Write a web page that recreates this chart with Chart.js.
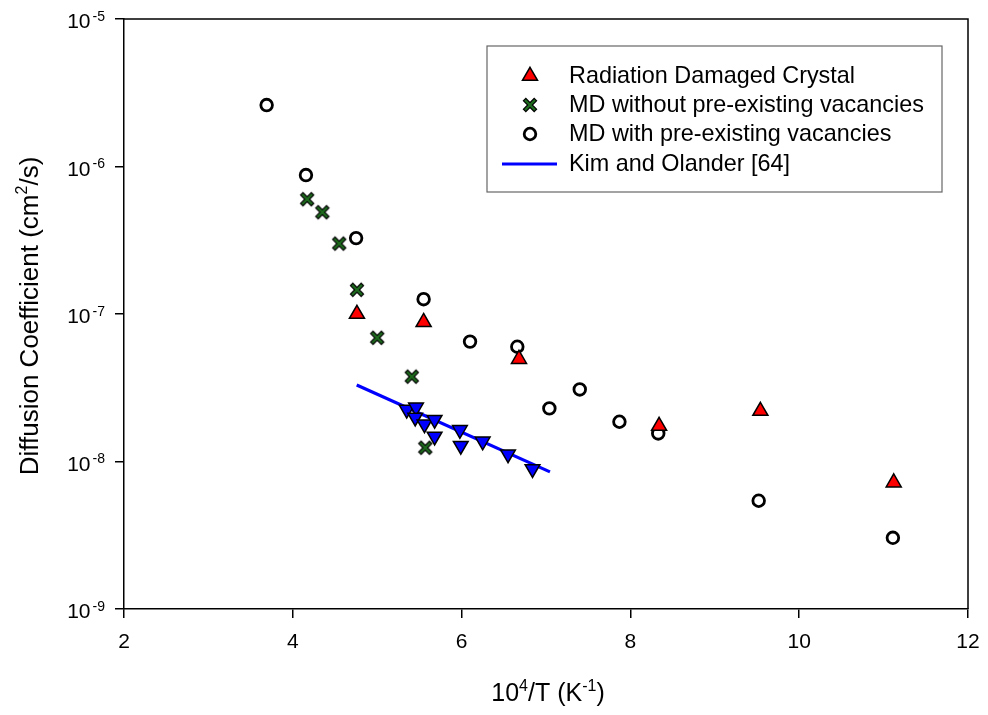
<!DOCTYPE html>
<html>
<head>
<meta charset="utf-8">
<script src="https://cdn.jsdelivr.net/npm/chart.js@4.4.1/dist/chart.umd.min.js"></script>
<style>
html,body{margin:0;padding:0;background:#fff;}
#wrap{width:988px;height:715px;position:relative;}
</style>
</head>
<body>
<div id="wrap"><canvas id="c" width="988" height="715"></canvas></div>
<script>
// ---- data ----
const radiationX = [4.76, 5.55, 6.68, 8.34, 9.54, 11.12];
const radiationY = [1.0e-7, 8.8e-8, 4.95e-8, 1.74e-8, 2.2e-8, 7.2e-9];

const mdNoVacX = [4.17, 4.35, 4.55, 4.76, 5.0, 5.41, 5.57];
const mdNoVacY = [6.0e-7, 4.9e-7, 3.0e-7, 1.46e-7, 6.9e-8, 3.76e-8, 1.24e-8];

const mdVacX = [3.69, 4.156, 4.75, 5.55, 6.1, 6.66, 7.04, 7.40, 7.87, 8.33, 9.52, 11.11];
const mdVacY = [2.61e-6, 8.75e-7, 3.27e-7, 1.26e-7, 6.5e-8, 6.0e-8, 2.29e-8, 3.08e-8, 1.86e-8, 1.55e-8, 5.42e-9, 3.04e-9];

const expX = [5.35, 5.46, 5.45, 5.56, 5.68, 5.68, 5.98, 5.99, 6.25, 6.55, 6.84];
const expY = [2.25e-8, 2.33e-8, 1.99e-8, 1.79e-8, 1.92e-8, 1.48e-8, 1.64e-8, 1.28e-8, 1.37e-8, 1.12e-8, 8.9e-9];

const kimX = [4.757, 7.047];
const kimY = [3.3e-8, 8.5e-9];

const xTicks = [2, 4, 6, 8, 10, 12];
const yTickExps = [-5, -6, -7, -8, -9];

const labels = ['Radiation Damaged Crystal', 'MD without pre-existing vacancies', 'MD with pre-existing vacancies', 'Kim and Olander [64]'];

const FONT = '"Liberation Sans", Arial, Helvetica, sans-serif';

function pts(xs, ys){ return xs.map((x,i)=>({x:x, y:ys[i]})); }

// green X marker with black outline
function makeCross(){
  const s = 18, cv = document.createElement('canvas');
  cv.width = s; cv.height = s;
  const g = cv.getContext('2d');
  const a = 3.2, b = s - 3.2;
  g.lineCap = 'butt';
  g.strokeStyle = '#000'; g.lineWidth = 4.6;
  g.beginPath(); g.moveTo(a,a); g.lineTo(b,b); g.moveTo(b,a); g.lineTo(a,b); g.stroke();
  g.strokeStyle = '#1e6b1e'; g.lineWidth = 2.4;
  g.beginPath(); g.moveTo(a+0.8,a+0.8); g.lineTo(b-0.8,b-0.8); g.moveTo(b-0.8,a+0.8); g.lineTo(a+0.8,b-0.8); g.stroke();
  return cv;
}
const crossImg = makeCross();

function drawParts(ctx, parts, x0, y0, big, small, measureOnly){
  let x = x0;
  parts.forEach(p => {
    ctx.font = (p[1] ? small : big) + 'px ' + FONT;
    const w = ctx.measureText(p[0]).width;
    if (!measureOnly) ctx.fillText(p[0], x, p[1] ? y0 - big*0.42 : y0);
    x += w;
  });
  return x - x0;
}

function drawSymbol(ctx, ds, x, y){
  ctx.save();
  ctx.fillStyle = ds.backgroundColor; ctx.strokeStyle = ds.borderColor; ctx.lineWidth = ds.borderWidth;
  if (ds.pointStyle === 'circle') {
    ctx.beginPath(); ctx.arc(x, y, ds.pointRadius, 0, Math.PI*2); ctx.fill(); ctx.stroke();
  } else if (ds.pointStyle === 'triangle') {
    const r = ds.pointRadius; let rad = 0;
    ctx.beginPath();
    ctx.moveTo(x + Math.sin(rad)*r, y - Math.cos(rad)*r);
    rad += 2*Math.PI/3; ctx.lineTo(x + Math.sin(rad)*r, y - Math.cos(rad)*r);
    rad += 2*Math.PI/3; ctx.lineTo(x + Math.sin(rad)*r, y - Math.cos(rad)*r);
    ctx.closePath(); ctx.fill(); ctx.stroke();
  } else {
    const img = ds.pointStyle;
    ctx.drawImage(img, x - img.width/2, y - img.height/2);
  }
  ctx.restore();
}

const frameAndText = {
  id: 'frameAndText',
  afterDraw(chart){
    const ctx = chart.ctx, ca = chart.chartArea;
    const xs = chart.scales.x, ys = chart.scales.y;
    ctx.save();
    // frame top & right
    ctx.strokeStyle = '#000'; ctx.lineWidth = 1.5;
    ctx.beginPath();
    ctx.moveTo(ca.left, ca.top); ctx.lineTo(ca.right, ca.top); ctx.lineTo(ca.right, ca.bottom);
    ctx.stroke();
    ctx.fillStyle = '#000';
    // x tick labels
    ctx.font = '21px ' + FONT;
    ctx.textAlign = 'center'; ctx.textBaseline = 'alphabetic';
    xTicks.forEach(v => { ctx.fillText(String(v), xs.getPixelForValue(v), ca.bottom + 39); });
    // y tick labels with superscript
    yTickExps.forEach(e => {
      const py = ys.getPixelForValue(Math.pow(10, e));
      const sup = String(e);
      ctx.font = '14px ' + FONT;
      const sw = ctx.measureText(sup).width;
      const right = ca.left - 19;
      ctx.textAlign = 'right';
      ctx.fillText(sup, right, py + 1.5);
      ctx.font = '21px ' + FONT;
      ctx.fillText('10', right - sw - 2, py + 9);
    });
    // x title: 10^4/T (K^-1)
    const cx = (ca.left + ca.right) / 2;
    const parts = [['10',0],['4',1],['/T (K',0],['-1',1],[')',0]];
    ctx.textAlign = 'left';
    const tw = drawParts(ctx, parts, 0, 0, 25, 16, true);
    drawParts(ctx, parts, cx - tw/2 + 2, ca.bottom + 92, 25, 16, false);
    // y title
    const yparts = [['Diffusion Coefficient (cm',0],['2',1],['/s)',0]];
    const cy = (ca.top + ca.bottom) / 2;
    ctx.save();
    ctx.translate(38, cy + 2);
    ctx.rotate(-Math.PI/2);
    const yw = drawParts(ctx, yparts, 0, 0, 26, 16, true);
    drawParts(ctx, yparts, -yw/2, 0, 26, 16, false);
    ctx.restore();

    // legend
    const L = {x: 487, y: 46, w: 455, h: 146};
    ctx.strokeStyle = '#666'; ctx.lineWidth = 1.2;
    ctx.strokeRect(L.x, L.y, L.w, L.h);
    const rowY = [76, 105, 134, 164];
    const symX = 530;
    ctx.textAlign = 'left'; ctx.textBaseline = 'middle';
    chart.data.datasets.forEach((ds, i) => {
      if (i > 3) return;
      const yy = rowY[i];
      if (ds.showLine) {
        ctx.strokeStyle = ds.borderColor; ctx.lineWidth = ds.borderWidth;
        ctx.beginPath(); ctx.moveTo(502, yy); ctx.lineTo(557, yy); ctx.stroke();
      } else {
        drawSymbol(ctx, ds, symX, yy);
      }
      ctx.fillStyle = '#000';
      ctx.font = '23.4px ' + FONT;
      ctx.fillText(labels[i], 569, yy + 1);
    });
    ctx.restore();
  }
};

const chart = new Chart(document.getElementById('c'), {
  type: 'scatter',
  data: {
    datasets: [
      { label: labels[0], data: pts(radiationX, radiationY), pointStyle: 'triangle', pointRadius: 8.7,
        backgroundColor: '#ff0000', borderColor: '#000', borderWidth: 1.5, order: 1 },
      { label: labels[1], data: pts(mdNoVacX, mdNoVacY), pointStyle: crossImg, pointRadius: 8,
        backgroundColor: '#1e6b1e', borderColor: '#000', borderWidth: 1, order: 2 },
      { label: labels[2], data: pts(mdVacX, mdVacY), pointStyle: 'circle', pointRadius: 5.8,
        backgroundColor: 'rgba(255,255,255,0)', borderColor: '#000', borderWidth: 2.8, order: 3 },
      { label: labels[3], data: pts(kimX, kimY), showLine: true, pointRadius: 0, borderColor: '#0000ff',
        borderWidth: 3.2, backgroundColor: '#0000ff', order: 5 },
      { label: 'exp', data: pts(expX, expY), pointStyle: 'triangle', pointRotation: 180, pointRadius: 8.5,
        backgroundColor: '#0000ff', borderColor: '#000', borderWidth: 1.5, order: 4 }
    ]
  },
  options: {
    responsive: false,
    animation: false,
    events: [],
    layout: { padding: { top: 19, right: 20, left: 0, bottom: 0 } },
    plugins: { legend: { display: false }, tooltip: { enabled: false } },
    scales: {
      x: {
        type: 'linear', min: 2, max: 12,
        afterFit(s){ s.height = 715 - 19 - 590; },
        afterBuildTicks(s){ s.ticks = xTicks.map(v => ({value: v})); },
        ticks: { display: false },
        grid: { display: true, drawOnChartArea: false, drawTicks: true, tickLength: 9, color: '#000', lineWidth: 1.5 },
        border: { display: true, color: '#000', width: 1.5 }
      },
      y: {
        type: 'logarithmic', min: 1e-9, max: 1e-5,
        afterFit(s){ s.width = 124; },
        afterBuildTicks(s){ s.ticks = yTickExps.map(e => ({value: Math.pow(10, e)})); },
        ticks: { display: false },
        grid: { display: true, drawOnChartArea: false, drawTicks: true, tickLength: 9, color: '#000', lineWidth: 1.5 },
        border: { display: true, color: '#000', width: 1.5 }
      }
    }
  },
  plugins: [frameAndText]
});
</script>
</body>
</html>
